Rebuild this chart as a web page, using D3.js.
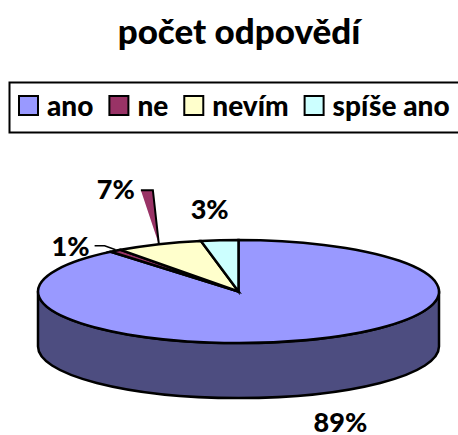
<!DOCTYPE html>
<html>
<head>
<meta charset="utf-8">
<script src="https://cdn.jsdelivr.net/npm/d3@7"></script>
<style>
  html, body { margin: 0; padding: 0; background: #fff; overflow: hidden; }
  text { font-family: Lato, "Open Sans", sans-serif; font-weight: 900; fill: #000; }
</style>
</head>
<body>
<script>
'use strict';

const chartTitle = "počet odpovědí";
const categories = ["ano", "ne", "nevím", "spíše ano"];
const values = [89, 1, 7, 3];
const labels = ["89%", "1%", "7%", "3%"];
const colors = ["#9999ff", "#993366", "#ffffcc", "#ccffff"];
const sideColor = "#4d4d80";

// ellipse of the tilted pie
const cx = 238.5, cy = 291.5, rx = 200.5, ry = 51.5, depth = 55;

const svg = d3.select("body").append("svg")
  .attr("width", 458)
  .attr("height", 435);

svg.append("text")
  .attr("x", 239)
  .attr("y", 44)
  .attr("text-anchor", "middle")
  .style("font-size", "35px")
  .text(chartTitle);

// legend
svg.append("rect")
  .attr("x", 9.5)
  .attr("y", 82.5)
  .attr("width", 470)
  .attr("height", 50)
  .attr("fill", "#fff")
  .attr("stroke", "#000")
  .attr("stroke-width", 2);

let legendX = 19;
categories.forEach((name, i) => {
  svg.append("rect")
    .attr("x", legendX)
    .attr("y", 96)
    .attr("width", 19)
    .attr("height", 19)
    .attr("fill", colors[i])
    .attr("stroke", "#000")
    .attr("stroke-width", 2);
  const t = svg.append("text")
    .attr("x", legendX + 28)
    .attr("y", 116)
    .style("font-size", "28px")
    .text(name);
  legendX += 28 + t.node().getComputedTextLength() + 16;
});

// pie angles, clockwise from 12 o'clock
const pie = d3.pie().sort(null).value(d => d);
const slices = pie(values);
const arc = d3.arc().innerRadius(0).outerRadius(rx);

// point on the rim of the top ellipse for a given pie angle
function rim(angle) {
  return [cx + rx * Math.sin(angle), cy - ry * Math.cos(angle)];
}

// side wall of the front half
svg.append("path")
  .attr("d", `M${cx - rx},${cy} L${cx - rx},${cy + depth}
    A${rx},${ry} 0 0 0 ${cx + rx},${cy + depth} L${cx + rx},${cy}
    A${rx},${ry} 0 0 1 ${cx - rx},${cy} Z`)
  .attr("fill", sideColor)
  .attr("stroke", "#000")
  .attr("stroke-width", 2.5)
  .attr("stroke-linejoin", "round");

// top face, squashed into the ellipse
svg.append("g")
  .attr("transform", `translate(${cx},${cy}) scale(1,${ry / rx})`)
  .selectAll("path")
  .data(slices)
  .enter()
  .append("path")
  .attr("d", arc)
  .attr("fill", (d, i) => colors[i])
  .attr("stroke", "#000")
  .attr("stroke-width", 2.5)
  .attr("stroke-linejoin", "miter")
  .attr("vector-effect", "non-scaling-stroke");

// leader of the 7% label: a thin wedge in the colour of "ne"
const mid = d => (d.startAngle + d.endAngle) / 2;
const tip = rim(mid(slices[2]));
const wedge = [tip, [tip[0] - 6, tip[1] - 54], [tip[0] - 18, tip[1] - 54]];
svg.append("path")
  .attr("d", d3.line()(wedge) + "Z")
  .attr("fill", colors[1])
  .attr("stroke", "none");
svg.append("path")
  .attr("d", d3.line()(wedge))
  .attr("fill", "none")
  .attr("stroke", "#000")
  .attr("stroke-width", 2);

// leader of the 1% label
const tip1 = rim(mid(slices[1]));
svg.append("path")
  .attr("d", `M${tip1[0] - 21},${tip1[1] - 5} L${tip1[0] - 11},${tip1[1] - 5} L${tip1[0]},${tip1[1] - 1}`)
  .attr("fill", "none")
  .attr("stroke", "#000")
  .attr("stroke-width", 1.5);

// data labels, placed relative to their slices
const labelPos = [
  [rim(mid(slices[0]))[0] + 34, cy + depth + 85],
  [tip1[0] - 26, tip1[1] + 5],
  [tip[0] - 24, tip[1] - 45],
  [rim(mid(slices[3]))[0] - 10, tip[1] - 25]
];
const labelAnchors = ["middle", "end", "end", "middle"];
labels.forEach((txt, i) => {
  svg.append("text")
    .attr("x", labelPos[i][0])
    .attr("y", labelPos[i][1])
    .attr("text-anchor", labelAnchors[i])
    .style("font-size", "27px")
    .text(txt);
});
</script>
</body>
</html>
